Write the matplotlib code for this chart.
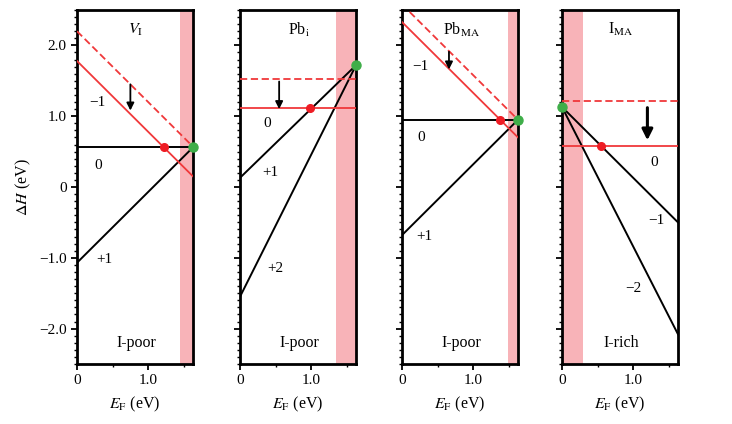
import matplotlib
matplotlib.use("Agg")
import matplotlib.pyplot as plt
from matplotlib.ticker import MultipleLocator

plt.rcParams['font.family'] = ['Liberation Serif', 'DejaVu Serif']
plt.rcParams['mathtext.fontset'] = 'stix'

# band gap edge (x limit) and the E_F ends where each line is evaluated
eg = 1.63
ends = [0, eg]

titles = ['$V_{\\rm I}$', 'Pb$_{\\rm i}$', 'Pb$_{\\rm MA}$', 'I$_{\\rm MA}$']
conditions = ['I-poor', 'I-poor', 'I-poor', 'I-rich']

# black lines: formation energy at E_F = 0 and E_F = eg
black_lines = [
    [[0.56, 0.56], [-1.07, 0.56]],
    [[0.13, 1.72], [-1.55, 1.72]],
    [[0.95, 0.95], [-0.68, 0.95]],
    [[1.13, -0.50], [1.13, -2.08]],
]
red_solid = [[1.78, 0.15], [1.11, 1.11], [2.33, 0.70], [0.58, 0.58]]
red_dashed = [[2.20, 0.57], [1.52, 1.52], [2.58, 0.95], [1.21, 1.21]]
red_dots = [(1.22, 0.56), (0.98, 1.11), (1.38, 0.95), (0.55, 0.58)]
green_dots = [(1.63, 0.56), (1.63, 1.72), (1.63, 0.95), (0.0, 1.13)]
bands = [(1.45, 1.63), (1.35, 1.63), (1.49, 1.63), (0.0, 0.30)]
# arrow x, start y, end y
arrows = [(0.75, 1.45, 1.08), (0.55, 1.49, 1.10), (0.66, 1.91, 1.66), (1.20, 1.12, 0.66)]
charge_labels = [
    [('−1', 0.28, 1.19), ('0', 0.30, 0.31), ('+1', 0.39, -1.02)],
    [('0', 0.38, 0.90), ('+1', 0.42, 0.20), ('+2', 0.50, -1.15)],
    [('−1', 0.26, 1.70), ('0', 0.27, 0.70), ('+1', 0.32, -0.70)],
    [('0', 1.30, 0.35), ('−1', 1.33, -0.47), ('−2', 1.00, -1.43)],
]

fig = plt.figure(figsize=(7.32, 4.24), dpi=100)
lefts = [77, 240, 402, 562]
red = '#f0383a'
for k in range(4):
    ax = fig.add_axes([lefts[k] / 732, 60 / 424, 116 / 732, 354 / 424])
    ax.axvspan(bands[k][0], bands[k][1], color='#f8b3b8', lw=0, zorder=0)
    for ln in black_lines[k]:
        ax.plot(ends, ln, color='k', lw=1.4, zorder=2)
    ax.plot(ends, red_solid[k], color=red, lw=1.3, zorder=3)
    ax.plot(ends, red_dashed[k], color=red, lw=1.3, ls=(0, (4, 2)), zorder=3)
    ax.plot(*red_dots[k], 'o', color='#ee1c24', ms=5.5, zorder=5, clip_on=False)
    ax.plot(*green_dots[k], 'o', color='#3fae49', ms=6.5, zorder=6, clip_on=False)
    ax_x, y0, y1 = arrows[k]
    big = k == 3
    ax.annotate('', xy=(ax_x, y1), xytext=(ax_x, y0),
                arrowprops=dict(arrowstyle='-|>', color='k',
                                lw=2.2 if big else 1.3,
                                mutation_scale=16 if big else 11,
                                shrinkA=0, shrinkB=0), zorder=4)
    for txt, x, y in charge_labels[k]:
        ax.text(x, y, txt, fontsize=11, ha='center', va='center')
    ax.text(0.83, 2.22, titles[k], fontsize=11.5, ha='center', va='center')
    ax.text(0.83, -2.2, conditions[k], fontsize=11.5, ha='center', va='center')

    ax.set_xlim(0, eg)
    ax.set_ylim(-2.5, 2.5)
    ax.set_xticks([0, 1.0])
    ax.set_xticklabels(['0', '1.0'])
    ax.xaxis.set_minor_locator(MultipleLocator(0.5))
    ax.set_yticks([-2, -1, 0, 1, 2])
    ax.yaxis.set_minor_locator(MultipleLocator(0.1))
    if k == 0:
        ax.set_yticklabels(['−2.0', '−1.0', '0', '1.0', '2.0'])
        ax.set_ylabel('$\\Delta H$ (eV)', fontsize=11.5, labelpad=4)
    else:
        ax.set_yticklabels([])
    ax.set_xlabel('$E_{\\rm F}$ (eV)', fontsize=11.5, labelpad=5)
    ax.tick_params(which='major', direction='out', length=4, width=1.3, labelsize=11)
    ax.tick_params(which='minor', direction='out', length=2.5, width=1.0)
    for s in ax.spines.values():
        s.set_linewidth(2.0)

fig.savefig('out.png', dpi=100)
